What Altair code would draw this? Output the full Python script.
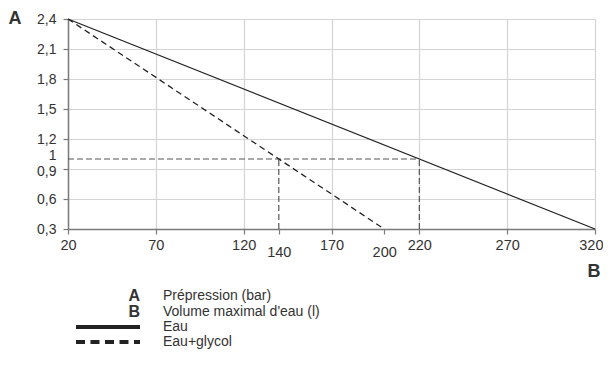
import altair as alt
import pandas as pd

# ---- data -------------------------------------------------------------
x_ticks = [20, 70, 120, 140, 170, 200, 220, 270, 320]
y_ticks = [0.3, 0.6, 0.9, 1.0, 1.2, 1.5, 1.8, 2.1, 2.4]

eau_vol = [20, 320]
eau_pres = [2.4, 0.3]
gly_vol = [20, 200]
gly_pres = [2.4, 0.3]

ref_x = [20, 140, 220]
ref_x2 = [220, 140, 220]
ref_y = [1.0, 0.3, 0.3]
ref_y2 = [1.0, 1.0, 1.0]

legend_keys = ["A", "B"]
legend_labels = ["Prépression (bar)", "Volume maximal d'eau (l)", "Eau", "Eau+glycol"]
axis_letters = ["A", "B"]

FONT = "Liberation Sans"

# ---- layout (pixels relative to the plot area) -------------------------
row_y = [277, 293, 308, 323]
key_x = 72
label_x = 95

xs = alt.Scale(domain=[20, 320], nice=False, zero=False)
ys = alt.Scale(domain=[0.3, 2.4], nice=False, zero=False)

special_x = "datum.value==140||datum.value==200"

x_axis = alt.Axis(
    values=x_ticks, title=None, grid=True, gridColor="#d4d4d4", gridWidth=1.2,
    gridOpacity={"condition": {"test": special_x, "value": 0}, "value": 1},
    domainColor="#7a7a7a", domainWidth=1.5, tickColor="#7a7a7a", tickSize=5, tickWidth=1.2,
    labelFont=FONT, labelFontSize=14.5, labelColor="#333333",
    labelPadding={"condition": {"test": special_x, "value": 11}, "value": 4},
    labelFlush=False, labelOverlap=False, format="d",
    labelAlign={"condition": {"test": "datum.value==320", "value": "right"}, "value": "center"},
    labelOffset={"condition": {"test": "datum.value==320", "value": 8}, "value": 0},
)
y_axis = alt.Axis(
    values=y_ticks, title=None, grid=True, gridColor="#d4d4d4", gridWidth=1.2,
    gridOpacity={"condition": {"test": "datum.value==1", "value": 0}, "value": 1},
    tickOpacity={"condition": {"test": "datum.value==1", "value": 0}, "value": 1},
    domainColor="#7a7a7a", domainWidth=1.5, tickColor="#7a7a7a", tickSize=5, tickWidth=1.2,
    labelFont=FONT, labelFontSize=14, labelColor="#333333", labelPadding=7,
    labelFlush=False, labelOverlap=False,
    labelOffset={"condition": [
        {"test": "datum.value==1", "value": -4},
        {"test": "datum.value==0.9", "value": 2},
    ], "value": 0},
    labelExpr="datum.value == 1 ? '1' : replace(format(datum.value, '.1f'), '.', ',')",
)

eau_df = pd.DataFrame({"v": eau_vol, "p": eau_pres})
gly_df = pd.DataFrame({"v": gly_vol, "p": gly_pres})
ref_df = pd.DataFrame({"v": ref_x, "v2": ref_x2, "p": ref_y, "p2": ref_y2})

X = alt.X("v:Q", scale=xs, axis=x_axis)
Y = alt.Y("p:Q", scale=ys, axis=y_axis)

eau = alt.Chart(eau_df).mark_line(color="#222222", strokeWidth=1.3).encode(x=X, y=Y)
gly = alt.Chart(gly_df).mark_line(color="#222222", strokeWidth=1.3, strokeDash=[6, 4]).encode(x=X, y=Y)
refs = alt.Chart(ref_df).mark_rule(color="#555555", strokeWidth=1.2, strokeDash=[6, 3]).encode(
    x=X, x2="v2:Q", y=Y, y2="p2:Q"
)

layers = [refs, gly, eau]

# axis letters
letter_pos = [(-53, 0), (526, 253)]
for letter, (px, py) in zip(axis_letters, letter_pos):
    layers.append(
        alt.Chart(pd.DataFrame({"t": [letter]})).mark_text(
            font=FONT, fontSize=18, fontWeight="bold", color="#333333",
            align="center", baseline="middle",
        ).encode(text="t:N", x=alt.value(px), y=alt.value(py))
    )

# legend keys
for i, k in enumerate(legend_keys):
    layers.append(
        alt.Chart(pd.DataFrame({"t": [k]})).mark_text(
            font=FONT, fontSize=16, fontWeight="bold", color="#333333",
            align="right", baseline="middle",
        ).encode(text="t:N", x=alt.value(key_x), y=alt.value(row_y[i]))
    )
# legend labels
for i, lab in enumerate(legend_labels):
    layers.append(
        alt.Chart(pd.DataFrame({"t": [lab]})).mark_text(
            font=FONT, fontSize=14, color="#333333",
            align="left", baseline="middle",
        ).encode(text="t:N", x=alt.value(label_x), y=alt.value(row_y[i]))
    )
# legend line samples
layers.append(
    alt.Chart(pd.DataFrame({"a": [0]})).mark_rule(color="#222222", strokeWidth=4).encode(
        x=alt.value(8), x2=alt.value(72), y=alt.value(row_y[2])
    )
)
layers.append(
    alt.Chart(pd.DataFrame({"a": [0]})).mark_rule(color="#222222", strokeWidth=4, strokeDash=[9, 5.5]).encode(
        x=alt.value(8), x2=alt.value(72), y=alt.value(row_y[3])
    )
)

chart = alt.layer(*layers).properties(
    width=527, height=210,
    autosize=alt.AutoSizeParams(type="none"),
    padding={"left": 60, "top": 11, "right": 8, "bottom": 139},
).configure_view(stroke=None)

chart.save("out.html", embed_options={"renderer": "svg", "actions": False})
